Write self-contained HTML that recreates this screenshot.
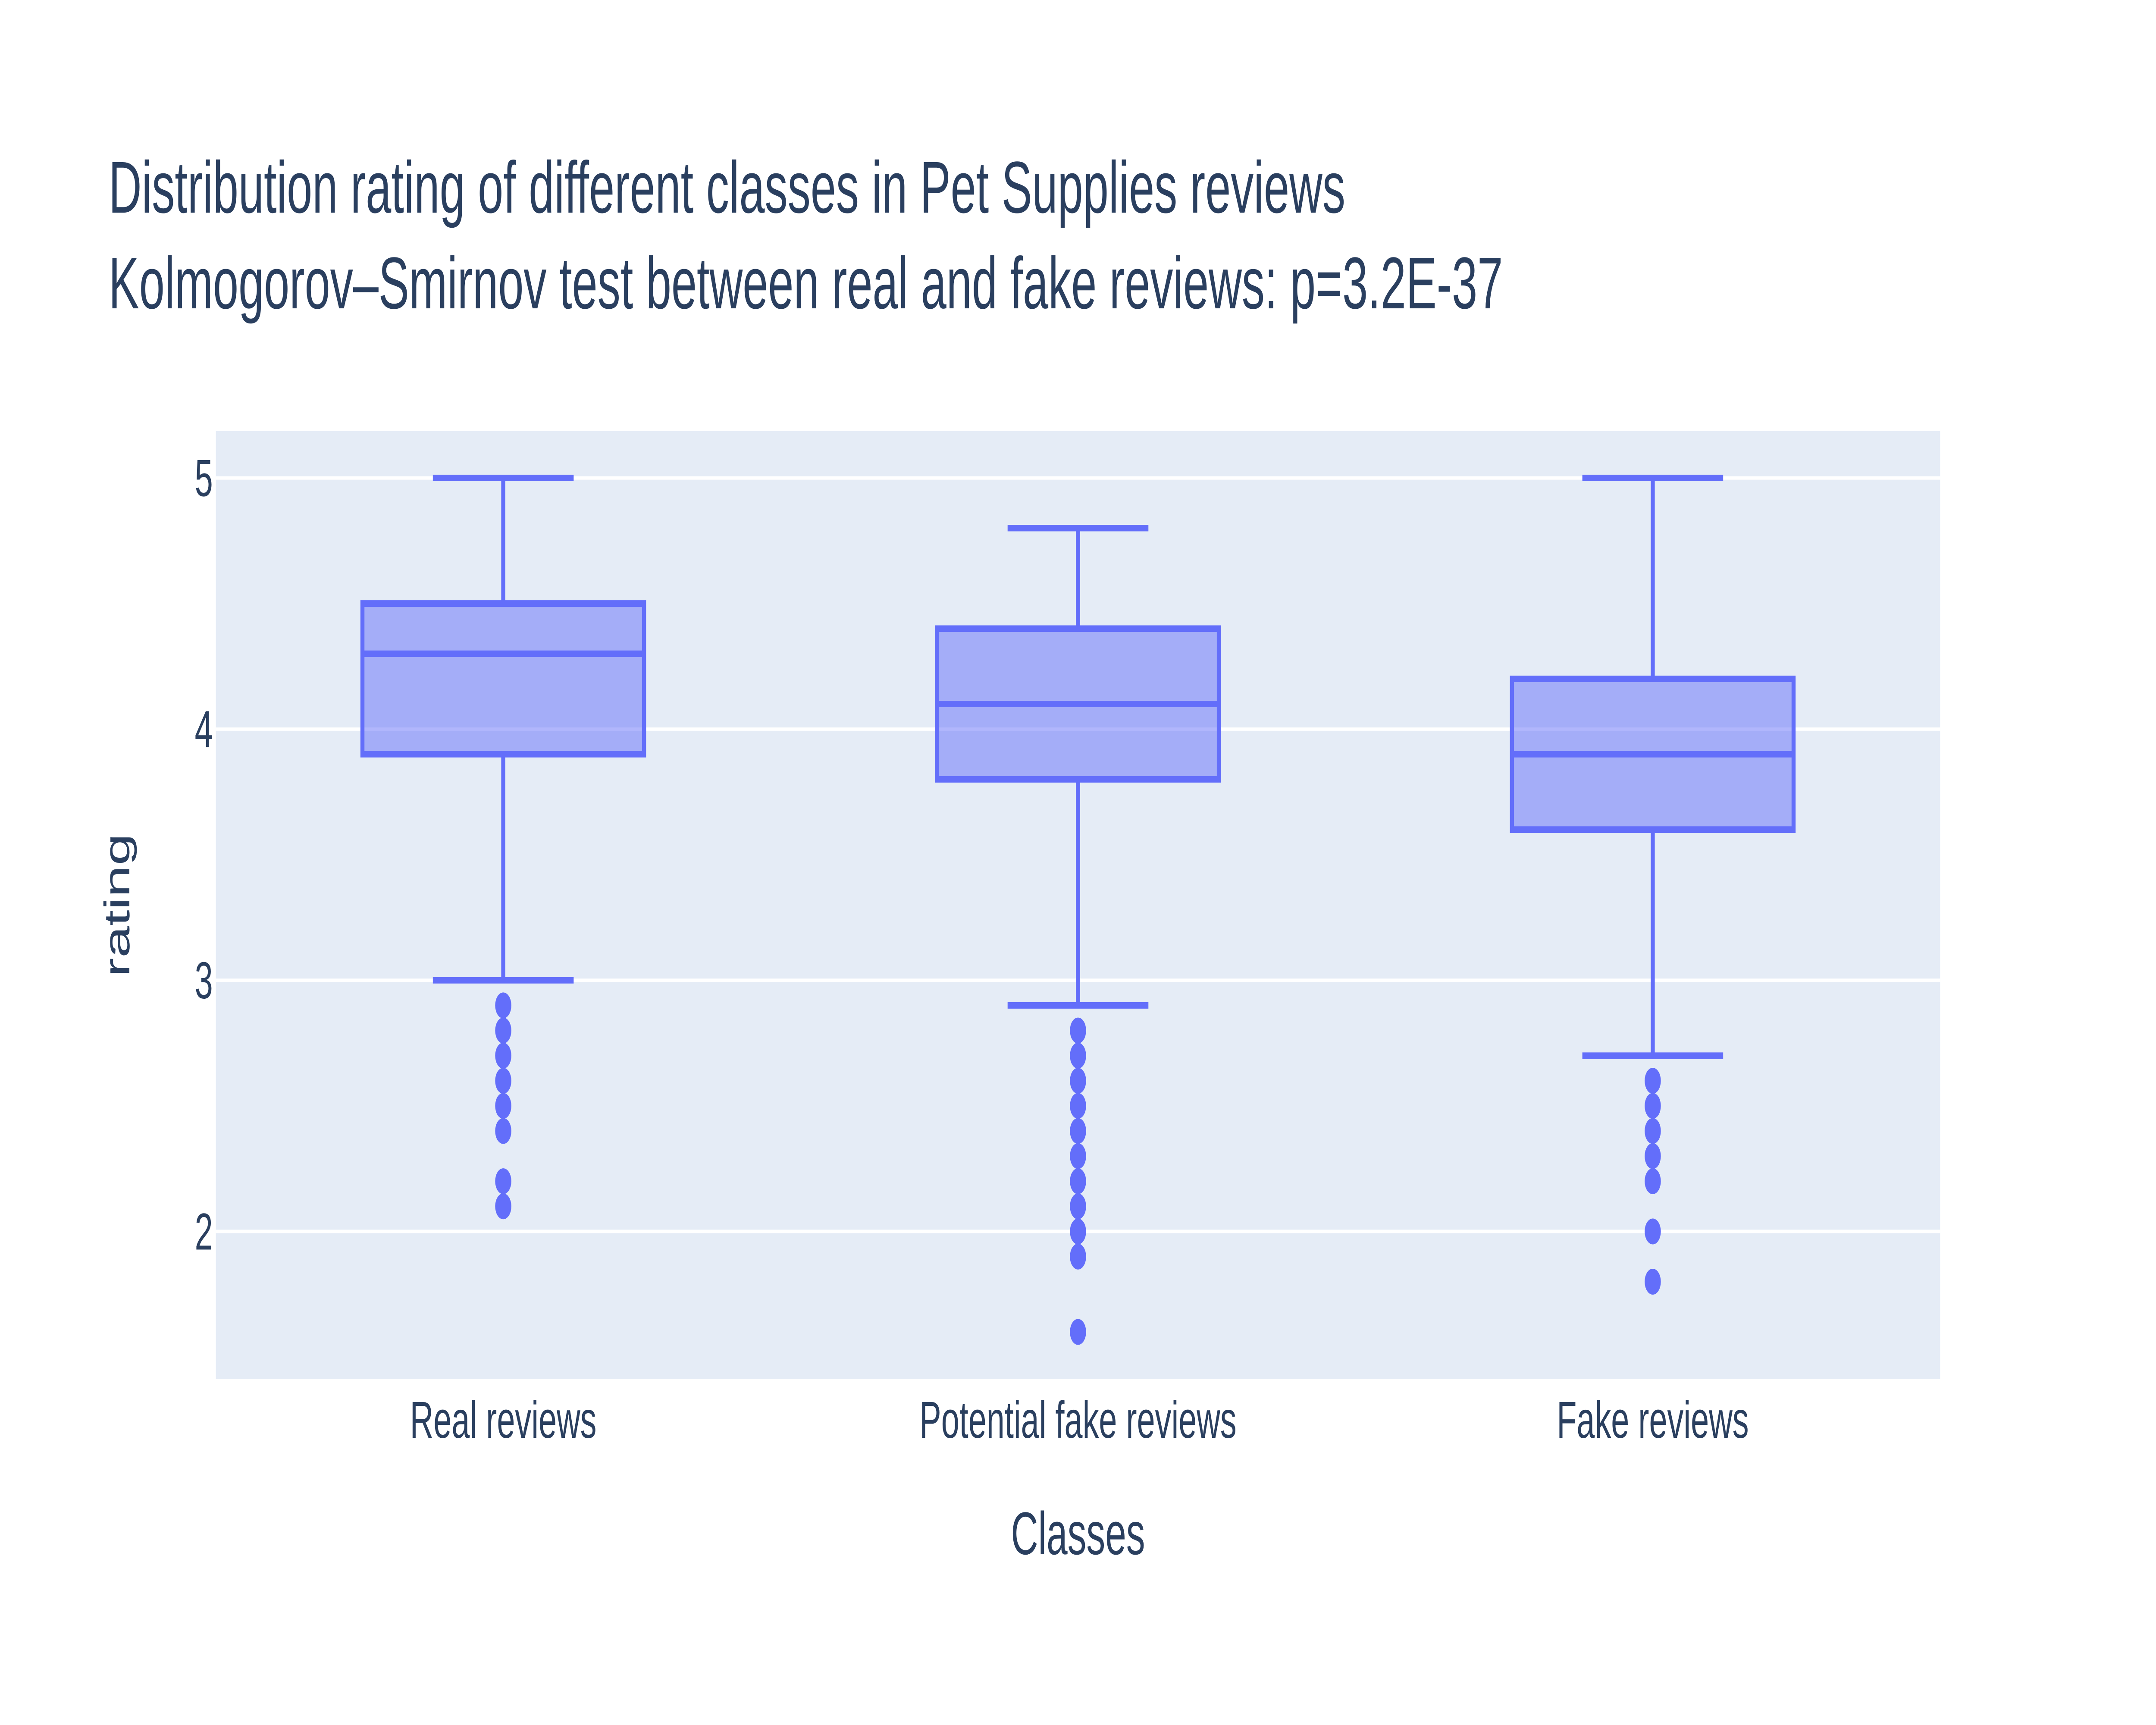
<!DOCTYPE html>
<html><head><meta charset="utf-8"><style>
html,body{margin:0;padding:0;background:#fff;width:100%;height:100%;overflow:hidden;}
svg{display:block;width:100vw;height:100vh;font-family:"Liberation Sans",Arial,sans-serif;}
</style></head><body>
<svg id="chart" viewBox="0 0 8000 4000" preserveAspectRatio="none" xmlns="http://www.w3.org/2000/svg">
<rect width="8000" height="4000" fill="#ffffff"/>
<text x="403" y="493" font-size="170" fill="#2a3f5f">Distribution rating of different classes in Pet Supplies reviews</text>
<text x="403" y="715" font-size="170" fill="#2a3f5f">Kolmogorov–Smirnov test between real and fake reviews: p=3.2E-37</text>
<rect x="801" y="1000" width="6398" height="2198" fill="#e5ecf6"/>
<g id="grid"></g>
<g id="yticks"></g>
<g id="boxes"></g>
<g id="xticks"></g>
<text x="4000" y="3604" font-size="140" fill="#2a3f5f" text-anchor="middle">Classes</text>
<text transform="translate(480,2099) rotate(-90)" font-size="133" fill="#2a3f5f" text-anchor="middle">rating</text>
</svg>
<script>
const categories = ["Real reviews", "Potential fake reviews", "Fake reviews"];
const lowerFence = [3.0, 2.9, 2.7];
const q1 = [3.9, 3.8, 3.6];
const median = [4.3, 4.1, 3.9];
const q3 = [4.5, 4.4, 4.2];
const upperFence = [5.0, 4.8, 5.0];
const outliersReal = [2.9, 2.8, 2.7, 2.6, 2.5, 2.4, 2.2, 2.1];
const outliersPotential = [2.8, 2.7, 2.6, 2.5, 2.4, 2.3, 2.2, 2.1, 2.0, 1.9, 1.6];
const outliersFake = [2.6, 2.5, 2.4, 2.3, 2.2, 2.0, 1.8];
const yTicks = [2, 3, 4, 5];

const NS = "http://www.w3.org/2000/svg";
const plotL = 801, plotR = 7199, plotT = 1000, plotB = 3198;
const yMin = 1.412, yMax = 5.186;
function yScale(v){ return plotB - (v - yMin) / (yMax - yMin) * (plotB - plotT); }
const band = (plotR - plotL) / categories.length;
function xScale(i){ return plotL + band * (i + 0.5); }
function mk(tag, attrs, parent){
  const e = document.createElementNS(NS, tag);
  for (const k in attrs) e.setAttribute(k, attrs[k]);
  parent.appendChild(e);
  return e;
}
const grid = document.getElementById('grid');
const yt = document.getElementById('yticks');
yTicks.forEach(t => {
  const l = mk('line', {x1: plotL, x2: plotR, y1: yScale(t), y2: yScale(t), stroke: '#ffffff', 'stroke-width': 8}, grid);
  
  
  const tx = mk('text', {x: 790, y: yScale(t) + 42, 'font-size': 121, fill: '#2a3f5f', 'text-anchor': 'end'}, yt);
  tx.textContent = t;
  
  
});
const boxes = document.getElementById('boxes');
const xt = document.getElementById('xticks');
const outliers = [outliersReal, outliersPotential, outliersFake];
const boxW = band * 0.49, capW = band * 0.1225;
const col = '#636efa', lw = 15;
categories.forEach((c, i) => {
  const cx = xScale(i);
  const g = mk('g', {}, boxes);
  
  
  const wl = mk('line', {x1: cx, x2: cx, y1: yScale(lowerFence[i]), y2: yScale(q1[i]), stroke: col, 'stroke-width': lw}, g);
  
  
  const wu = mk('line', {x1: cx, x2: cx, y1: yScale(q3[i]), y2: yScale(upperFence[i]), stroke: col, 'stroke-width': lw}, g);
  
  
  const cl = mk('line', {x1: cx - capW, x2: cx + capW, y1: yScale(lowerFence[i]), y2: yScale(lowerFence[i]), stroke: col, 'stroke-width': lw}, g);
  
  
  const cu = mk('line', {x1: cx - capW, x2: cx + capW, y1: yScale(upperFence[i]), y2: yScale(upperFence[i]), stroke: col, 'stroke-width': lw}, g);
  
  
  const r = mk('rect', {x: cx - boxW / 2, y: yScale(q3[i]), width: boxW, height: yScale(q1[i]) - yScale(q3[i]), fill: 'rgba(99,110,250,0.5)', stroke: col, 'stroke-width': lw}, g);
  
  
  const m = mk('line', {x1: cx - boxW / 2, x2: cx + boxW / 2, y1: yScale(median[i]), y2: yScale(median[i]), stroke: col, 'stroke-width': lw}, g);
  
  
  outliers[i].forEach(v => {
    const p = mk('circle', {cx: cx, cy: yScale(v), r: 30, fill: col}, g);
    
    
  });
  const tx = mk('text', {x: cx, y: 3334, 'font-size': 121, fill: '#2a3f5f', 'text-anchor': 'middle'}, xt);
  tx.textContent = c;
  
  
});
</script>
</body></html>
